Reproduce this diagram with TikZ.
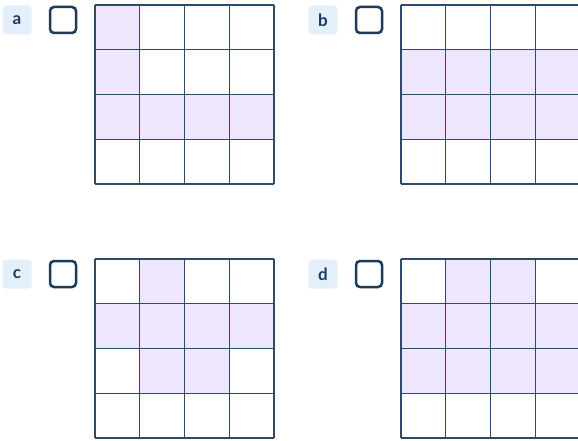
\documentclass[tikz,border=0pt]{standalone}
\usepackage{fontspec}
\setmainfont{Lato}
\definecolor{cellfill}{HTML}{EEE6FC}
\definecolor{gridline}{HTML}{2E4A66}
\definecolor{labfill}{HTML}{E3F0FB}
\definecolor{labtext}{HTML}{1D3A5C}
\definecolor{boxline}{HTML}{1F3A57}
\tikzset{
  lab/.style={fill=labfill, rounded corners=3pt, minimum width=29pt, minimum height=29pt, inner sep=0pt, text=labtext, font=\bfseries\fontsize{17}{17}\selectfont},
  chk/.style={draw=boxline, line width=2.5pt, rounded corners=4pt, minimum width=26pt, minimum height=26pt, inner sep=0pt},
  gridln/.style={draw=gridline, line width=1.4pt},
}
\newcommand{\mygrid}[3]{% x0, y0, list of shaded cells col/row
  \foreach \c/\r in {#3}{
    \fill[cellfill] ({#1+\c*44.75},{#2+\r*44.75}) rectangle ++(44.75,44.75);
  }
  \foreach \i in {0,...,4}{
    \draw[gridln] ({#1+\i*44.75},#2) -- ({#1+\i*44.75},{#2+179});
    \draw[gridln] (#1,{#2+\i*44.75}) -- ({#1+179},{#2+\i*44.75});
  }
}
\begin{document}
\begin{tikzpicture}[x=1pt,y=-1pt]
\useasboundingbox (0,0) rectangle (578,441);
\clip (0,0) rectangle (578,441);
\fill[white] (0,0) rectangle (578,441);
% a
\node[lab] (la) at (17,20) {a};
\node[chk] (ca) at (63,20) {};
\mygrid{95}{5}{0/0,0/1,0/2,1/2,2/2,3/2}
% b
\node[lab] (lb) at (323,20) {b};
\node[chk] (cb) at (369,20) {};
\mygrid{401}{5}{0/1,1/1,2/1,3/1,0/2,1/2,2/2,3/2}
% c
\node[lab] (lc) at (17,274) {c};
\node[chk] (cc) at (63,274) {};
\mygrid{95}{259}{1/0,0/1,1/1,2/1,3/1,1/2,2/2}
% d
\node[lab] (ld) at (323,274) {d};
\node[chk] (cd) at (369,274) {};
\mygrid{401}{259}{1/0,2/0,0/1,1/1,2/1,3/1,0/2,1/2,2/2,3/2}
\end{tikzpicture}
\end{document}
